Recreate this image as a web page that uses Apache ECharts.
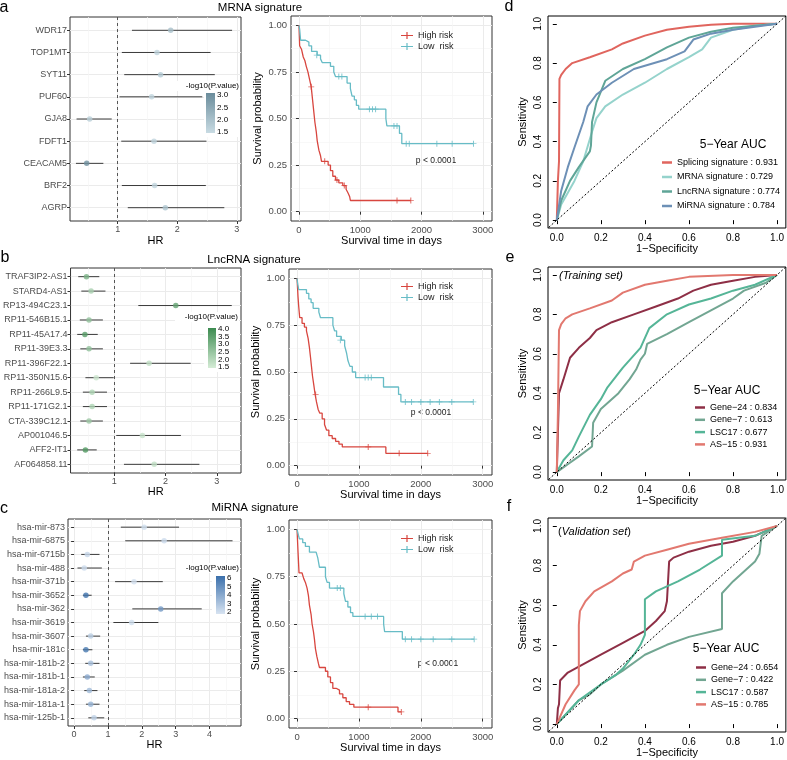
<!DOCTYPE html>
<html lang="en">
<head>
<meta charset="UTF-8">
<title>Signature panels</title>
<script src="https://cdn.jsdelivr.net/npm/echarts@6/dist/echarts.min.js"></script>
<style>
  html, body { margin: 0; padding: 0; background: #fff; }
  #chart { width: 787px; height: 760px; }
</style>
</head>
<body>
<div id="chart"></div>
<script>
// ---------- forest plots: HR, 95% CI, -log10(p) ----------
const mrnaGenes = ['WDR17', 'TOP1MT', 'SYT11', 'PUF60', 'GJA8', 'FDFT1', 'CEACAM5', 'BRF2', 'AGRP'];
const mrnaHR   = [1.89, 1.66, 1.72, 1.57, 0.53, 1.61, 0.48, 1.62, 1.80];
const mrnaLow  = [1.24, 1.07, 1.11, 1.03, 0.31, 1.06, 0.30, 1.07, 1.17];
const mrnaHigh = [2.92, 2.56, 2.63, 2.42, 0.90, 2.49, 0.76, 2.48, 2.79];
const mrnaLogP = [2.0, 1.6, 1.8, 1.6, 1.7, 1.6, 3.0, 1.6, 1.9];

const lncGenes = ['TRAF3IP2-AS1', 'STARD4-AS1', 'RP13-494C23.1', 'RP11-546B15.1', 'RP11-45A17.4',
  'RP11-39E3.3', 'RP11-396F22.1', 'RP11-350N15.6', 'RP11-266L9.5', 'RP11-171G2.1',
  'CTA-339C12.1', 'AP001046.5', 'AFF2-IT1', 'AF064858.11'];
const lncHR   = [0.46, 0.55, 2.20, 0.51, 0.43, 0.51, 1.68, 0.65, 0.57, 0.57, 0.51, 1.55, 0.44, 1.78];
const lncLow  = [0.30, 0.36, 1.47, 0.33, 0.28, 0.34, 1.31, 0.44, 0.39, 0.39, 0.34, 1.04, 0.28, 1.19];
const lncHigh = [0.71, 0.83, 3.29, 0.78, 0.68, 0.78, 2.49, 0.99, 0.86, 0.86, 0.78, 2.30, 0.66, 2.66];
const lncLogP = [3.0, 2.2, 3.4, 2.6, 3.6, 2.6, 1.8, 1.6, 2.1, 2.1, 2.4, 1.7, 3.7, 1.8];

const mirGenes = ['hsa-mir-873', 'hsa-mir-6875', 'hsa-mir-6715b', 'hsa-mir-488', 'hsa-mir-371b',
  'hsa-mir-3652', 'hsa-mir-362', 'hsa-mir-3619', 'hsa-mir-3607', 'hsa-mir-181c',
  'hsa-mir-181b-2', 'hsa-mir-181b-1', 'hsa-mir-181a-2', 'hsa-mir-181a-1', 'hsa-mir-125b-1'];
const mirHR   = [2.07, 2.66, 0.39, 0.30, 1.77, 0.35, 2.56, 1.70, 0.49, 0.35, 0.49, 0.39, 0.45, 0.49, 0.59];
const mirLow  = [1.38, 1.51, 0.21, 0.10, 1.21, 0.26, 1.72, 1.16, 0.35, 0.26, 0.33, 0.26, 0.30, 0.35, 0.42];
const mirHigh = [3.10, 4.68, 0.75, 0.82, 2.62, 0.52, 3.77, 2.49, 0.77, 0.54, 0.75, 0.61, 0.69, 0.75, 0.89];
const mirLogP = [2.0, 2.1, 2.3, 2.1, 1.9, 6.0, 4.6, 2.0, 2.6, 5.8, 3.1, 4.0, 3.3, 3.6, 2.5];

const pTicksA = [1.5, 2.0, 2.5, 3.0];
const pTicksB = [1.5, 2.0, 2.5, 3.0, 3.5, 4.0];
const pTicksC = [2, 3, 4, 5, 6];

// ---------- Kaplan-Meier curves (time in days, survival) ----------
const aHighT = [0, 11, 43, 70, 97, 119, 146, 173, 200, 222, 244, 260, 282, 298, 325, 352, 368, 476, 514, 552, 596, 650, 715, 769, 801, 828, 839, 1825];
const aHighS = [1, 0.89, 0.87, 0.83, 0.81, 0.78, 0.75, 0.71, 0.67, 0.60, 0.53, 0.48, 0.43, 0.38, 0.33, 0.30, 0.27, 0.25, 0.22, 0.19, 0.17, 0.155, 0.14, 0.12, 0.10, 0.08, 0.06, 0.06];
const aLowT = [0, 11, 27, 108, 162, 206, 298, 352, 379, 514, 568, 596, 785, 839, 866, 904, 937, 975, 1418, 1435, 1640, 1678, 2848];
const aLowS = [1, 0.98, 0.92, 0.91, 0.89, 0.86, 0.84, 0.82, 0.80, 0.78, 0.75, 0.725, 0.69, 0.66, 0.62, 0.60, 0.57, 0.55, 0.50, 0.46, 0.42, 0.365, 0.365];
const aHighCens = [[200, 0.67], [420, 0.27], [620, 0.17], [740, 0.14], [1600, 0.06], [1825, 0.06]];
const aLowCens = [[290, 0.84], [650, 0.725], [700, 0.725], [1150, 0.55], [1200, 0.55], [1250, 0.55], [1550, 0.46], [1600, 0.46], [1750, 0.365], [1800, 0.365], [2250, 0.365], [2500, 0.365], [2848, 0.365]];

const bHighT = [0, 16, 27, 43, 81, 119, 152, 179, 200, 217, 233, 249, 271, 292, 314, 341, 368, 406, 444, 476, 514, 568, 623, 677, 731, 1435, 2111];
const bHighS = [1, 0.90, 0.85, 0.79, 0.76, 0.74, 0.72, 0.68, 0.63, 0.58, 0.53, 0.48, 0.43, 0.38, 0.34, 0.30, 0.28, 0.25, 0.22, 0.19, 0.16, 0.145, 0.13, 0.115, 0.10, 0.066, 0.066];
const bLowT = [0, 11, 27, 152, 190, 227, 260, 352, 379, 579, 606, 639, 715, 769, 801, 823, 855, 893, 947, 1397, 1640, 1678, 2848];
const bLowS = [1, 0.97, 0.94, 0.92, 0.89, 0.87, 0.84, 0.82, 0.79, 0.75, 0.72, 0.69, 0.67, 0.64, 0.60, 0.56, 0.53, 0.50, 0.47, 0.42, 0.38, 0.34, 0.34];
const bHighCens = [[300, 0.38], [1150, 0.10], [1650, 0.066], [2111, 0.066]];
const bLowCens = [[700, 0.67], [1100, 0.47], [1150, 0.47], [1200, 0.47], [1750, 0.34], [1850, 0.34], [2000, 0.34], [2150, 0.34], [2300, 0.34], [2500, 0.34], [2848, 0.34]];

const cHighT = [0, 16, 32, 81, 108, 135, 162, 184, 200, 227, 243, 265, 281, 297, 319, 346, 362, 459, 497, 540, 578, 632, 686, 740, 794, 848, 918, 1631, 1685];
const cHighS = [1, 0.88, 0.77, 0.76, 0.74, 0.72, 0.69, 0.65, 0.60, 0.55, 0.50, 0.46, 0.42, 0.37, 0.33, 0.29, 0.27, 0.25, 0.22, 0.19, 0.16, 0.15, 0.13, 0.11, 0.09, 0.075, 0.06, 0.035, 0.035];
const cLowT = [0, 22, 38, 92, 135, 200, 308, 335, 362, 459, 486, 524, 756, 783, 821, 864, 902, 1399, 1415, 1701, 2862];
const cLowS = [1, 0.97, 0.95, 0.93, 0.91, 0.88, 0.87, 0.85, 0.80, 0.75, 0.72, 0.69, 0.66, 0.62, 0.59, 0.56, 0.54, 0.50, 0.46, 0.42, 0.42];
const cHighCens = [[1150, 0.06], [1685, 0.035]];
const cLowCens = [[650, 0.69], [700, 0.69], [1100, 0.54], [1200, 0.54], [1300, 0.54], [1750, 0.42], [1850, 0.42], [2000, 0.42], [2200, 0.42], [2500, 0.42], [2862, 0.42]];

// ---------- ROC curves [1-specificity, sensitivity] ----------
const rocSplicing = [[0, 0], [0.005, 0.2], [0.01, 0.3], [0.012, 0.72], [0.02, 0.74], [0.04, 0.77], [0.07, 0.80], [0.15, 0.83], [0.25, 0.87], [0.3, 0.90], [0.4, 0.94], [0.5, 0.97], [0.6, 0.985], [0.7, 0.995], [0.8, 1.0], [1, 1]];
const rocMrna = [[0, 0], [0.02, 0.08], [0.08, 0.2], [0.12, 0.3], [0.16, 0.45], [0.18, 0.52], [0.22, 0.58], [0.3, 0.64], [0.4, 0.70], [0.5, 0.77], [0.6, 0.83], [0.66, 0.87], [0.7, 0.93], [0.8, 0.97], [0.9, 0.99], [1, 1]];
const rocLnc = [[0, 0], [0.02, 0.1], [0.06, 0.2], [0.1, 0.27], [0.15, 0.35], [0.155, 0.38], [0.16, 0.5], [0.18, 0.6], [0.22, 0.71], [0.3, 0.77], [0.4, 0.82], [0.5, 0.88], [0.6, 0.93], [0.7, 0.96], [0.8, 0.98], [1, 1]];
const rocMir = [[0, 0], [0.02, 0.15], [0.05, 0.27], [0.08, 0.37], [0.12, 0.5], [0.14, 0.58], [0.18, 0.64], [0.25, 0.70], [0.35, 0.77], [0.5, 0.82], [0.58, 0.86], [0.62, 0.92], [0.7, 0.95], [0.8, 0.97], [1, 1]];

const trainGene24 = [[0, 0], [0.005, 0.2], [0.01, 0.4], [0.03, 0.47], [0.06, 0.58], [0.1, 0.63], [0.15, 0.68], [0.18, 0.72], [0.25, 0.76], [0.35, 0.80], [0.45, 0.84], [0.55, 0.88], [0.62, 0.92], [0.7, 0.95], [0.8, 0.97], [0.9, 0.99], [1, 1]];
const trainGene7 = [[0, 0], [0.05, 0.04], [0.1, 0.08], [0.16, 0.13], [0.165, 0.25], [0.2, 0.32], [0.28, 0.40], [0.33, 0.47], [0.36, 0.52], [0.38, 0.57], [0.4, 0.60], [0.41, 0.65], [0.5, 0.70], [0.6, 0.76], [0.7, 0.82], [0.8, 0.88], [0.85, 0.92], [0.95, 0.96], [1, 1]];
const trainLsc17 = [[0, 0], [0.03, 0.06], [0.07, 0.11], [0.1, 0.18], [0.15, 0.29], [0.2, 0.37], [0.23, 0.43], [0.3, 0.53], [0.38, 0.63], [0.42, 0.73], [0.5, 0.80], [0.6, 0.85], [0.7, 0.88], [0.8, 0.92], [0.9, 0.95], [1, 1]];
const trainAs15 = [[0, 0], [0.005, 0.3], [0.01, 0.72], [0.02, 0.75], [0.04, 0.78], [0.07, 0.80], [0.15, 0.83], [0.25, 0.87], [0.3, 0.91], [0.4, 0.95], [0.5, 0.97], [0.6, 0.99], [0.8, 1], [1, 1]];

const validGene24 = [[0, 0], [0.005, 0.08], [0.01, 0.1], [0.015, 0.22], [0.05, 0.26], [0.1, 0.29], [0.2, 0.35], [0.3, 0.41], [0.4, 0.47], [0.45, 0.52], [0.49, 0.57], [0.5, 0.62], [0.51, 0.82], [0.53, 0.84], [0.6, 0.87], [0.7, 0.90], [0.8, 0.92], [0.9, 0.95], [1, 1]];
const validGene7 = [[0, 0], [0.1, 0.12], [0.15, 0.15], [0.2, 0.2], [0.3, 0.27], [0.4, 0.35], [0.5, 0.40], [0.6, 0.44], [0.75, 0.48], [0.75, 0.66], [0.8, 0.72], [0.9, 0.82], [0.92, 0.86], [0.93, 0.95], [1, 1]];
const validLsc17 = [[0, 0], [0.1, 0.12], [0.2, 0.2], [0.27, 0.25], [0.3, 0.28], [0.35, 0.35], [0.38, 0.40], [0.4, 0.45], [0.4, 0.63], [0.45, 0.67], [0.55, 0.72], [0.65, 0.78], [0.75, 0.85], [0.75, 0.93], [0.9, 0.95], [1, 1]];
const validAs15 = [[0, 0], [0.04, 0.1], [0.08, 0.17], [0.1, 0.2], [0.1, 0.5], [0.105, 0.57], [0.13, 0.62], [0.17, 0.67], [0.25, 0.72], [0.3, 0.76], [0.34, 0.78], [0.35, 0.82], [0.4, 0.85], [0.5, 0.88], [0.6, 0.91], [0.75, 0.94], [0.9, 0.97], [1, 1]];

const diagLine = [[-0.05, -0.05], [1.05, 1.05]];
const kmTicksX = [0, 1000, 2000, 3000];
const kmMinorX = [500, 1500, 2500];
const kmTicksY = [0, 0.25, 0.5, 0.75, 1];
const kmMinorY = [0.125, 0.375, 0.625, 0.875];
const rocTicks = [0, 0.2, 0.4, 0.6, 0.8, 1.0];

// ---------- building the option ----------
const FONT = '"Liberation Sans", Arial, sans-serif';
const MAJOR = '#ebebeb', MINOR = '#f5f5f5', AXTXT = '#4d4d4d';
const RED = '#d8463f', TEAL = '#67bcc6';
const grids = [], xAxes = [], yAxes = [], series = [], visualMaps = [], legends = [], graphics = [];

function addGrid(box, border) {
  grids.push({ left: box[0], top: box[1], width: box[2], height: box[3], show: true,
    borderColor: border, borderWidth: 1, backgroundColor: '#fff' });
  return grids.length - 1;
}

function minorAxis(list, g, min, max, values, inverse) {
  list.push({ type: 'value', gridIndex: g, min: min, max: max, inverse: !!inverse,
    axisLine: { show: false }, axisLabel: { show: false },
    axisTick: { show: false, customValues: values },
    splitLine: { show: true, lineStyle: { color: MINOR, width: 0.7 } } });
}

function errorBar(params, api) {
  const p1 = api.coord([api.value(1), api.value(0)]);
  const p2 = api.coord([api.value(2), api.value(0)]);
  return { type: 'line', shape: { x1: p1[0], y1: p1[1], x2: p2[0], y2: p2[1] },
    style: { stroke: '#3a3a3a', lineWidth: 1 } };
}

function forestPanel(box, genes, hr, lo, hi, logp, xr, majors, minors, pr, colors, nameGap) {
  const g = addGrid(box, '#333');
  const rows = genes.map((_, i) => i + 1);
  const xi = xAxes.length;
  xAxes.push({ type: 'value', gridIndex: g, min: xr[0], max: xr[1],
    axisLine: { show: false },
    axisTick: { length: 3, customValues: majors, lineStyle: { color: '#333' } },
    axisLabel: { customValues: majors, fontSize: 9, color: AXTXT, margin: 4 },
    splitLine: { show: true, lineStyle: { color: MAJOR } },
    name: 'HR', nameLocation: 'middle', nameGap: nameGap,
    nameTextStyle: { fontSize: 11, color: '#000' } });
  minorAxis(xAxes, g, xr[0], xr[1], minors);
  const yi = yAxes.length;
  yAxes.push({ type: 'value', gridIndex: g, min: 0.4, max: genes.length + 0.6, inverse: true,
    axisLine: { show: false },
    axisTick: { length: 3, customValues: rows, lineStyle: { color: '#333' } },
    axisLabel: { customValues: rows, formatter: v => genes[Math.round(v) - 1] || '',
      fontSize: 9, color: AXTXT, margin: 3 },
    splitLine: { show: true, lineStyle: { color: MAJOR } } });
  series.push({ type: 'custom', xAxisIndex: xi, yAxisIndex: yi, silent: true, z: 2,
    data: genes.map((_, i) => [i + 1, lo[i], hi[i]]),
    encode: { x: [1, 2], y: 0 }, renderItem: errorBar });
  series.push({ type: 'scatter', xAxisIndex: xi, yAxisIndex: yi, z: 3, symbolSize: 5.5,
    data: genes.map((_, i) => [hr[i], i + 1, logp[i]]),
    markLine: { silent: true, symbol: 'none', label: { show: false },
      lineStyle: { type: [3, 3], color: '#555', width: 1 }, data: [{ xAxis: 1 }] } });
  visualMaps.push({ show: false, seriesIndex: series.length - 1, dimension: 2,
    min: pr[0], max: pr[1], inRange: { color: colors } });
}

// colour-bar legend inside the forest panel (white backing like ggplot's legend box)
function pLegend(titleBox, barBox, bar, ticks, pr, colors, digits) {
  [titleBox, barBox].forEach(b => graphics.push({ type: 'rect', silent: true, z: 10,
    shape: { x: b[0], y: b[1], width: b[2], height: b[3] }, style: { fill: '#fff' } }));
  graphics.push({ type: 'text', x: titleBox[0] + titleBox[2] - 1, y: titleBox[1] + titleBox[3] / 2,
    silent: true, z: 11,
    style: { text: '-log10(P.value)', align: 'right', verticalAlign: 'middle',
      fontSize: 8, fontFamily: FONT, fill: '#000' } });
  graphics.push({ type: 'rect', silent: true, z: 11,
    shape: { x: bar[0], y: bar[1], width: bar[2], height: bar[3] },
    style: { fill: new echarts.graphic.LinearGradient(0, 0, 0, 1,
      [{ offset: 0, color: colors[1] }, { offset: 1, color: colors[0] }]) } });
  ticks.forEach(v => {
    const y = bar[1] + (pr[1] - v) / (pr[1] - pr[0]) * bar[3];
    graphics.push({ type: 'text', x: bar[0] + bar[2] + 2, y: y, silent: true, z: 11,
      style: { text: v.toFixed(digits), align: 'left', verticalAlign: 'middle',
        fontSize: 8, fontFamily: FONT, fill: '#000' } });
  });
}

const censorIcon = 'path://M-0.5,-4H0.5V4H-0.5Z M-3,-0.5H3V0.5H-3Z';

function kmPanel(box, high, low, highCens, lowCens, legendTop, pText) {
  const g = addGrid(box, '#333');
  const xi = xAxes.length, yi = yAxes.length;
  xAxes.push({ type: 'value', gridIndex: g, min: -130, max: 3150, axisLine: { show: false },
    axisTick: { length: 3, customValues: kmTicksX, lineStyle: { color: '#333' } },
    axisLabel: { customValues: kmTicksX, formatter: v => String(Math.round(v)), fontSize: 9.5,
      color: AXTXT, margin: 4 },
    splitLine: { show: true, lineStyle: { color: MAJOR } },
    name: 'Survival time in days', nameLocation: 'middle', nameGap: 14,
    nameTextStyle: { fontSize: 11, color: '#000' } });
  minorAxis(xAxes, g, -130, 3150, kmMinorX);
  yAxes.push({ type: 'value', gridIndex: g, min: -0.05, max: 1.05, axisLine: { show: false },
    axisTick: { length: 3, customValues: kmTicksY, lineStyle: { color: '#333' } },
    axisLabel: { customValues: kmTicksY, formatter: v => v.toFixed(2), fontSize: 9.5,
      color: AXTXT, margin: 4 },
    splitLine: { show: true, lineStyle: { color: MAJOR } },
    name: 'Survival probability', nameLocation: 'middle', nameGap: 28,
    nameTextStyle: { fontSize: 11, color: '#000' } });
  minorAxis(yAxes, g, -0.05, 1.05, kmMinorY);
  const curve = (name, t, s, color) => ({ type: 'line', name: name, xAxisIndex: xi, yAxisIndex: yi,
    step: 'end', showSymbol: false, color: color, lineStyle: { width: 1.3, color: color },
    data: t.map((v, i) => [v, s[i]]), z: 3 });
  const cens = (name, pts, color) => ({ type: 'scatter', name: name, xAxisIndex: xi, yAxisIndex: yi,
    symbol: censorIcon, symbolSize: 6, itemStyle: { color: color }, data: pts, z: 4 });
  series.push(curve('High risk', high[0], high[1], RED));
  series.push(curve('Low  risk', low[0], low[1], TEAL));
  series.push(cens('High censor', highCens, RED));
  series.push(cens('Low censor', lowCens, TEAL));
  legends.push({ data: ['High risk', 'Low  risk'], left: 401, top: legendTop, orient: 'vertical',
    padding: 0, itemGap: 2, itemWidth: 12, itemHeight: 8, selectedMode: false,
    icon: 'path://M0,3.4H12V4.6H0Z M5.4,0.5H6.6V7.5H5.4Z',
    textStyle: { fontSize: 9, color: '#222', fontFamily: FONT } });
  graphics.push({ type: 'text', x: pText[0], y: pText[1], silent: true,
    style: { text: 'p < 0.0001', align: 'center', verticalAlign: 'middle',
      fontSize: 8.5, fontFamily: FONT, fill: '#222' } });
}

function rocPanel(box, curves, legendLeft, legendTop, gap, aucPos) {
  const g = addGrid(box, '#000');
  const xi = xAxes.length, yi = yAxes.length;
  xAxes.push({ type: 'value', gridIndex: g, min: -0.04, max: 1.04, axisLine: { show: false },
    axisTick: { length: 4, customValues: rocTicks, lineStyle: { color: '#000' } },
    axisLabel: { customValues: rocTicks, formatter: v => v.toFixed(1), fontSize: 10,
      color: '#000', margin: 5 },
    splitLine: { show: false },
    name: '1\u2212Specificity', nameLocation: 'middle', nameGap: 14,
    nameTextStyle: { fontSize: 11, color: '#000' } });
  yAxes.push({ type: 'value', gridIndex: g, min: -0.04, max: 1.04, axisLine: { show: false },
    axisTick: { length: 4, customValues: rocTicks, lineStyle: { color: '#000' } },
    axisLabel: { customValues: rocTicks, formatter: v => v.toFixed(1), fontSize: 10,
      color: '#000', margin: 5, rotate: 90 },
    splitLine: { show: false },
    name: 'Sensitivity', nameLocation: 'middle', nameGap: 20,
    nameTextStyle: { fontSize: 11, color: '#000' } });
  curves.forEach(c => series.push({ type: 'line', name: c[0], xAxisIndex: xi, yAxisIndex: yi,
    data: c[1], showSymbol: false, color: c[2], lineStyle: { width: 2, color: c[2] }, z: 3 }));
  series.push({ type: 'line', xAxisIndex: xi, yAxisIndex: yi, data: diagLine, showSymbol: false,
    silent: true, lineStyle: { width: 1, color: '#000', type: [2, 2] }, z: 4 });
  legends.push({ data: curves.map(c => c[0]), left: legendLeft, top: legendTop, orient: 'vertical',
    padding: 0, itemGap: gap, itemWidth: 10, itemHeight: 2.5, icon: 'rect', selectedMode: false,
    textStyle: { fontSize: 9, color: '#000', fontFamily: FONT } });
  graphics.push({ type: 'text', x: aucPos[0], y: aucPos[1], silent: true,
    style: { text: '5\u2212Year AUC', align: 'center', verticalAlign: 'middle',
      fontSize: 12, fontFamily: FONT, fill: '#000' } });
}

// row a
forestPanel([70, 17, 171, 204], mrnaGenes, mrnaHR, mrnaLow, mrnaHigh, mrnaLogP,
  [0.2, 3.07], [1, 2, 3], [0.5, 1.5, 2.5], [1.46, 3.08], ['#c8dbe3', '#6a8c9b'], 14);
pLegend([176, 81, 64, 10], [204, 90, 36, 47], [206, 93, 9, 40], pTicksA, [1.46, 3.08],
  ['#c8dbe3', '#6a8c9b'], 1);
kmPanel([291, 16, 201, 205], [aHighT, aHighS], [aLowT, aLowS], aHighCens, aLowCens, 31, [436, 161]);
rocPanel([548, 16, 238, 212], [
  ['Splicing signature : 0.931', rocSplicing, '#e0655e'],
  ['MRNA signature : 0.729', rocMrna, '#95d3cc'],
  ['LncRNA signature : 0.774', rocLnc, '#5fa597'],
  ['MiRNA signature : 0.784', rocMir, '#6d90b6']], 662, 158, 5.5, [733, 145]);

// row b
forestPanel([70, 268, 171, 205], lncGenes, lncHR, lncLow, lncHigh, lncLogP,
  [0.15, 3.47], [1, 2, 3], [0.5, 1.5, 2.5], [1.44, 4.06], ['#d5ecd6', '#3c8b50'], 13);
pLegend([175, 312, 64, 10], [204, 321, 35, 51], [208, 328, 8, 40], pTicksB, [1.44, 4.06],
  ['#d5ecd6', '#3c8b50'], 1);
kmPanel([289, 269, 203, 206], [bHighT, bHighS], [bLowT, bLowS], bHighCens, bLowCens, 282, [431, 413]);
rocPanel([548, 267, 238, 213], [
  ['Gene\u221224 : 0.834', trainGene24, '#8e2f46'],
  ['Gene\u22127 : 0.613', trainGene7, '#72a692'],
  ['LSC17 : 0.677', trainLsc17, '#55b597'],
  ['AS\u221215 : 0.931', trainAs15, '#e2786f']], 695, 403, 3.3, [727, 391]);

// row c
forestPanel([68, 519, 173, 207], mirGenes, mirHR, mirLow, mirHigh, mirLogP,
  [-0.18, 4.93], [0, 1, 2, 3, 4], [0.5, 1.5, 2.5, 3.5, 4.5], [1.8, 6.2], ['#d7e3f1', '#3a6fab'], 12);
pLegend([176, 563, 64, 10], [212, 572, 28, 46], [216, 576, 9, 38], pTicksC, [1.8, 6.2],
  ['#d7e3f1', '#3a6fab'], 0);
kmPanel([289, 520, 203, 208], [cHighT, cHighS], [cLowT, cLowS], cHighCens, cLowCens, 534, [438, 664]);
rocPanel([548, 518, 238, 214], [
  ['Gene\u221224 : 0.654', validGene24, '#8e2f46'],
  ['Gene\u22127 : 0.422', validGene7, '#72a692'],
  ['LSC17 : 0.587', validLsc17, '#55b597'],
  ['AS\u221215 : 0.785', validAs15, '#e2786f']], 696, 663, 3.3, [726, 649]);

// panel letters, row titles, set labels
[['a', 4, 8], ['b', 5, 258], ['c', 4, 509], ['d', 509, 7], ['e', 510, 258], ['f', 509, 507]].forEach(l => {
  graphics.push({ type: 'text', x: l[1], y: l[2], silent: true,
    style: { text: l[0], align: 'center', verticalAlign: 'middle', fontSize: 16,
      fontFamily: FONT, fill: '#000' } });
});
[['MRNA signature', 260, 8], ['LncRNA signature', 254, 260], ['MiRNA signature', 255, 508]].forEach(t => {
  graphics.push({ type: 'text', x: t[1], y: t[2], silent: true,
    style: { text: t[0], align: 'center', verticalAlign: 'middle', fontSize: 11.5,
      fontFamily: FONT, fill: '#000' } });
});
graphics.push({ type: 'text', x: 559, y: 276, silent: true,
  style: { text: '(Training set)', align: 'left', verticalAlign: 'middle', fontSize: 11,
    fontStyle: 'italic', fontFamily: FONT, fill: '#000' } });
graphics.push({ type: 'text', x: 558, y: 532, silent: true,
  style: { text: '({it|Validation set})', align: 'left', verticalAlign: 'middle', fontSize: 11,
    fontFamily: FONT, fill: '#000',
    rich: { it: { fontStyle: 'italic', fontSize: 11, fontFamily: FONT, fill: '#000' } } } });

const chart = echarts.init(document.getElementById('chart'));
chart.setOption({
  animation: false,
  textStyle: { fontFamily: FONT },
  grid: grids,
  xAxis: xAxes,
  yAxis: yAxes,
  visualMap: visualMaps,
  legend: legends,
  series: series,
  graphic: graphics
});
</script>
</body>
</html>
